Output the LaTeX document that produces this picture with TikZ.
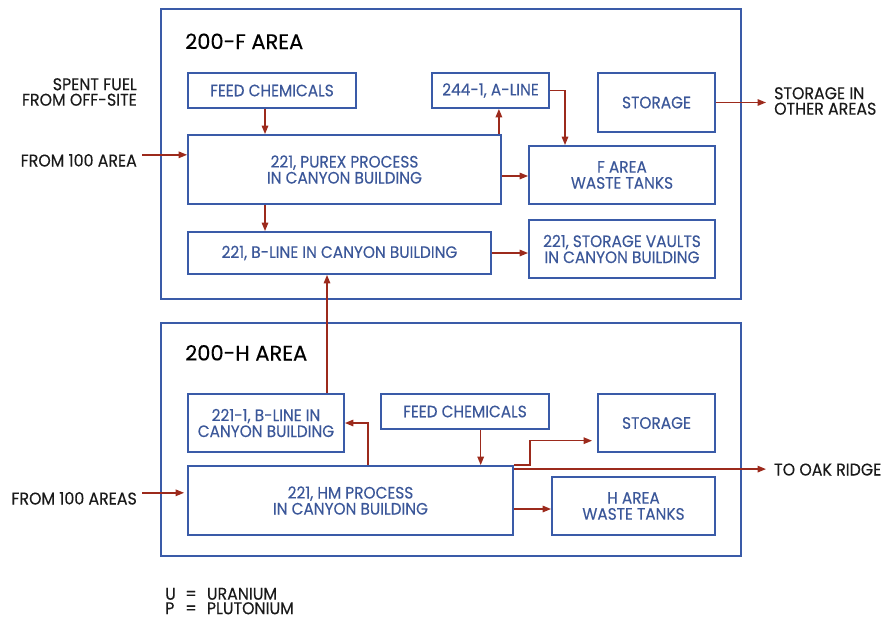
\documentclass[tikz,border=0pt]{standalone}
\usepackage{fontspec}
\setmainfont{Poppins}[FakeStretch=0.93,FakeBold=0.3]
\newfontfamily\titlefont{Poppins}[FakeBold=0.3]
\usetikzlibrary{arrows.meta,calc}
\definecolor{boxblue}{HTML}{3A5BA8}
\definecolor{txtblue}{HTML}{3B5799}
\definecolor{arrred}{HTML}{9C2A1C}
\definecolor{txtblack}{HTML}{1A1A1A}
\tikzset{
  x=1pt,y=-1pt,
  areabox/.style={draw=boxblue,line width=1.4pt},
  pbox/.style={draw=boxblue,line width=1.8pt,inner sep=0pt,align=center,
    text=txtblue,font=\fontsize{16.5}{16}\selectfont},
  outtxt/.style={inner sep=0pt,text=txtblack,font=\fontsize{17}{15.5}\selectfont},
  titletxt/.style={inner sep=0pt,text=black,font=\titlefont\fontsize{21}{22}\selectfont},
  arr/.style={draw=arrred,line width=1.5pt,-{Triangle[length=8.5pt,width=6.5pt]}},
}
\begin{document}
\begin{tikzpicture}
\useasboundingbox (0,0) rectangle (887,621);
% area frames
\draw[areabox] (161,9) rectangle (741,299);
\draw[areabox] (161,323) rectangle (741,556);
\node[titletxt,anchor=base west] (titleF) at (185,49) {200-F AREA};
\node[titletxt,anchor=base west] (titleH) at (185,360.5) {200-H AREA};
% 200-F boxes
\node[pbox,minimum width=168pt,minimum height=35pt] (feedF) at (272,90.5) {FEED CHEMICALS};
\node[pbox,minimum width=117pt,minimum height=35pt] (aline) at (490.5,90.5) {244-1, A-LINE};
\node[pbox,minimum width=117pt,minimum height=59pt] (storF) at (656.5,102.5) {STORAGE};
\node[pbox,minimum width=313pt,minimum height=69pt] (purex) at (344.5,169.5) {221, PUREX PROCESS\\IN CANYON BUILDING};
\node[pbox,minimum width=186pt,minimum height=58pt] (wasteF) at (622,175) {F AREA\\WASTE TANKS};
\node[pbox,minimum width=303pt,minimum height=42pt] (blineF) at (339.5,253) {221, B-LINE IN CANYON BUILDING};
\node[pbox,minimum width=186pt,minimum height=58pt] (vaults) at (622,249) {221, STORAGE VAULTS\\IN CANYON BUILDING};
% 200-H boxes
\node[pbox,minimum width=156pt,minimum height=58pt] (bline1) at (266,423) {221-1, B-LINE IN\\CANYON BUILDING};
\node[pbox,minimum width=168pt,minimum height=35pt] (feedH) at (465,411.5) {FEED CHEMICALS};
\node[pbox,minimum width=117pt,minimum height=58pt] (storH) at (656.5,423) {STORAGE};
\node[pbox,minimum width=325pt,minimum height=69pt] (hm) at (350.5,500.5) {221, HM PROCESS\\IN CANYON BUILDING};
\node[pbox,minimum width=163pt,minimum height=58pt] (wasteH) at (633.5,506) {H AREA\\WASTE TANKS};
% outside texts
\node[outtxt,anchor=east,align=right] (spent) at (137,92) {SPENT FUEL\\FROM OFF-SITE};
\node[outtxt,anchor=base east] (from100) at (137,166.5) {FROM 100 AREA};
\node[outtxt,anchor=base east] (from100s) at (137,504.5) {FROM 100 AREAS};
\node[outtxt,anchor=west,align=left] (other) at (774,101) {STORAGE IN\\OTHER AREAS};
\node[outtxt,anchor=base west] (oak) at (774,475.5) {TO OAK RIDGE};
\node[outtxt,anchor=south west,align=left,font=\fontsize{17}{14.5}\selectfont] (legend) at (165,614.5)
  {\makebox[20pt][l]{U}\makebox[21.7pt][l]{=}URANIUM\\\makebox[20pt][l]{P}\makebox[21.7pt][l]{=}PLUTONIUM};
% connectors 200-F
\draw[arr] ([xshift=-7pt]feedF.south) -- ([xshift=-7pt]feedF.south |- purex.north);
\draw[arr] ([xshift=-3pt]purex.north east) -- ([xshift=-3pt]purex.north east |- aline.south);
\draw[arr] (aline.east) -| ([xshift=-57pt]wasteF.north);
\draw[arr] ([yshift=-1pt]wasteF.west -| purex.east) -- ([yshift=-1pt]wasteF.west);
\draw[arr] ([xshift=-7pt]feedF.south |- purex.south) -- ([xshift=-7pt]feedF.south |- blineF.north);
\draw[arr] (blineF.east) -- (blineF.east -| vaults.west);
\draw[arr] (storF.east) -- ([xshift=-8pt]storF.east -| other.west);
\draw[arr] ([xshift=5pt,yshift=5.5pt]from100.east) -- ([yshift=5.5pt]from100.east -| purex.west);
% connectors 200-H
\draw[arr] ([xshift=61pt]bline1.north) -- ([xshift=61pt]bline1.north |- blineF.south);
\draw[arr] ([xshift=181pt]hm.north west) |- (bline1.east);
\draw[arr] ([xshift=15.7pt]feedH.south) -- ([xshift=15.7pt]feedH.south |- hm.north);
\draw[arr] (hm.north east) -- ++(16pt,0pt) |- ([xshift=-5pt,yshift=-17.7pt]storH.west);
\draw[arr] ([yshift=-4pt]hm.north east) -- ([yshift=-4pt,xshift=-8pt]hm.north east -| oak.west);
\draw[arr] ([yshift=-3pt]wasteH.west -| hm.east) -- ([yshift=-3pt]wasteH.west);
\draw[arr] ([xshift=5pt,yshift=5.5pt]from100s.east) -- ([xshift=-3pt,yshift=5.5pt]from100s.east -| hm.west);
\end{tikzpicture}
\end{document}
